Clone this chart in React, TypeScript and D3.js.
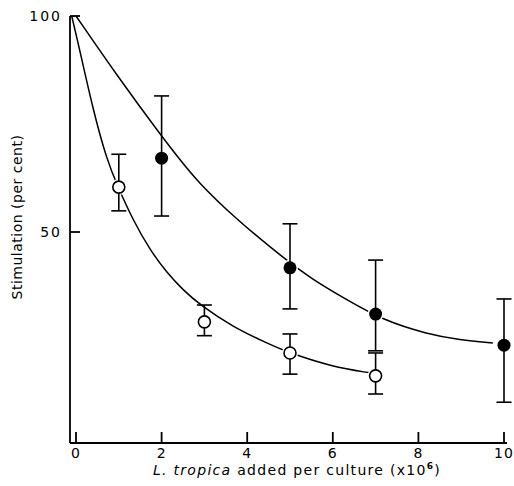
import React from "react";
import * as d3 from "d3";

const xTicks = [0, 2, 4, 6, 8, 10];
const yTicks = [50, 100];

// Open circles: x, mean, low, high
const openX = [1, 3, 5, 7];
const openY = [60.4, 29.2, 22.0, 16.7];
const openLo = [54.9, 26.0, 17.1, 12.5];
const openHi = [68.0, 33.1, 26.4, 22.0];

// Filled circles
const filledX = [2, 5, 7, 10];
const filledY = [67.1, 41.7, 31.0, 23.8];
const filledLo = [53.7, 32.2, 22.5, 10.6];
const filledHi = [81.5, 51.9, 43.5, 34.5];

// Fitted curves
const lowerCurveX = [-0.1, 0.05, 0.4, 0.72, 0.98, 1.33, 1.73, 2.13, 2.5, 2.9, 3.67, 4.46, 4.93, 6.0, 6.87];
const lowerCurveY = [100, 93.8, 78.2, 66.7, 60.4, 52.8, 45.8, 40.5, 36.6, 33.1, 28.0, 24.3, 22.2, 18.75, 17.4];
const upperCurveX = [0, 0.98, 1.96, 2.43, 2.83, 3.67, 4.84, 5.54, 6.33, 7.17, 8.2, 8.97, 9.74];
const upperCurveY = [100, 85.9, 72.7, 66.7, 61.8, 53.6, 44.0, 38.9, 34.3, 29.6, 26.4, 25.0, 24.3];

const W = 514;
const H = 486;
const FONT = "DejaVu Sans, sans-serif";

export default function App() {
  const x = d3.scaleLinear().domain([0, 10]).range([76, 504]);
  const y = d3.scaleLinear().domain([1.16, 100]).range([443, 16]);
  const axisLeft = x(-0.14);
  const axisRight = x(10.07);
  const axisBottom = y(1.16);
  const axisTop = y(100);

  const line = d3
    .line<[number, number]>()
    .x((d) => x(d[0]))
    .y((d) => y(d[1]))
    .curve(d3.curveBasis);

  const lowerPts = lowerCurveX.map((v, i) => [v, lowerCurveY[i]] as [number, number]);
  const upperPts = upperCurveX.map((v, i) => [v, upperCurveY[i]] as [number, number]);

  const capHalf = 7.5;
  const r = 6;
  const sw = 1.6;

  const errBar = (px: number, lo: number, hi: number, key: string) => (
    <g key={key} stroke="#000" strokeWidth={sw} fill="none">
      <line x1={x(px)} x2={x(px)} y1={y(lo)} y2={y(hi)} />
      <line x1={x(px) - capHalf} x2={x(px) + capHalf} y1={y(lo)} y2={y(lo)} />
      <line x1={x(px) - capHalf} x2={x(px) + capHalf} y1={y(hi)} y2={y(hi)} />
    </g>
  );

  return (
    <svg
      width={W}
      height={H}
      viewBox={`0 0 ${W} ${H}`}
      style={{ position: "absolute", left: 0, top: 0, background: "#fff" }}
    >
      <rect x={0} y={0} width={W} height={H} fill="#fff" />
      {/* axes */}
      <g stroke="#000" strokeWidth={1.8} fill="none">
        <line x1={axisLeft} x2={axisLeft} y1={axisTop} y2={axisBottom} />
        <line x1={axisLeft} x2={axisRight} y1={axisBottom} y2={axisBottom} />
        {xTicks.map((t) => (
          <line key={"xt" + t} x1={x(t)} x2={x(t)} y1={axisBottom} y2={axisBottom - 11} />
        ))}
        {yTicks.map((t) => (
          <line key={"yt" + t} x1={axisLeft} x2={axisLeft + 10} y1={y(t)} y2={y(t)} />
        ))}
      </g>
      {/* tick labels */}
      <g fontFamily={FONT} fontSize={14} fill="#000">
        {xTicks.map((t) => (
          <text key={"xl" + t} x={x(t)} y={axisBottom + 15} textAnchor="middle" letterSpacing={1}>
            {t}
          </text>
        ))}
        {yTicks.map((t) => (
          <text key={"yl" + t} x={62} y={y(t) + 5} textAnchor="end" letterSpacing={2}>
            {t}
          </text>
        ))}
      </g>
      {/* axis titles */}
      <text
        x={297}
        y={475}
        textAnchor="middle"
        fontFamily={FONT}
        fontSize={14}
        letterSpacing={1.3}
        fill="#000"
      >
        <tspan fontStyle="italic">L. tropica</tspan>
        <tspan> added per culture (x10</tspan>
        <tspan fontSize={9} dy={-6} fontWeight="bold">6</tspan>
        <tspan dy={6}>)</tspan>
      </text>
      <text
        transform={`translate(22,217) rotate(-90)`}
        textAnchor="middle"
        fontFamily={FONT}
        fontSize={14}
        letterSpacing={0.5}
        fill="#000"
      >
        Stimulation (per cent)
      </text>
      {/* curves */}
      <path d={line(lowerPts) ?? ""} fill="none" stroke="#000" strokeWidth={1.5} />
      <path d={line(upperPts) ?? ""} fill="none" stroke="#000" strokeWidth={1.5} />
      {/* halos */}
      {openX.map((v, i) => (
        <circle key={"oh" + i} cx={x(v)} cy={y(openY[i])} r={r + 2} fill="#fff" />
      ))}
      {filledX.map((v, i) => (
        <circle key={"fh" + i} cx={x(v)} cy={y(filledY[i])} r={r + 2} fill="#fff" />
      ))}
      {/* error bars */}
      {openX.map((v, i) => errBar(v, openLo[i], openHi[i], "oe" + i))}
      {filledX.map((v, i) => errBar(v, filledLo[i], filledHi[i], "fe" + i))}
      {/* markers */}
      {openX.map((v, i) => (
        <circle key={"o" + i} cx={x(v)} cy={y(openY[i])} r={r} fill="#fff" stroke="#000" strokeWidth={1.6} />
      ))}
      {filledX.map((v, i) => (
        <circle key={"f" + i} cx={x(v)} cy={y(filledY[i])} r={r + 0.5} fill="#000" />
      ))}
    </svg>
  );
}
